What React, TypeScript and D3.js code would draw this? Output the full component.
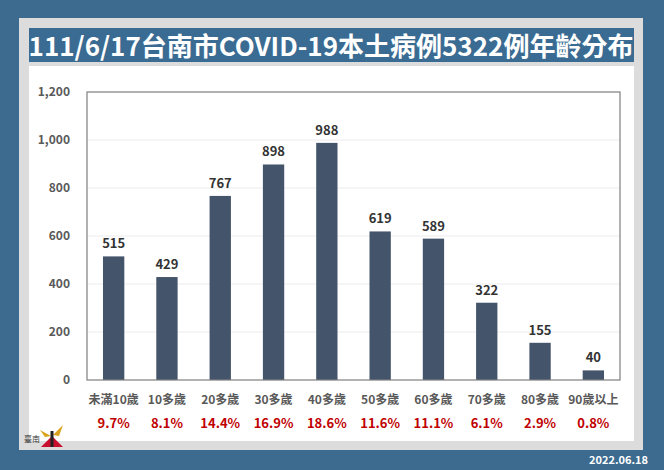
import React, { useEffect, useRef } from "react";
import * as d3 from "d3";

const W = 664;
const H = 470;

const title = "111/6/17台南市COVID-19本土病例5322例年齡分布";
const dateText = "2022.06.18";
const categories = ["未滿10歲", "10多歲", "20多歲", "30多歲", "40多歲", "50多歲", "60多歲", "70多歲", "80多歲", "90歲以上"];
const cases = [515, 429, 767, 898, 988, 619, 589, 322, 155, 40];
const shares = ["9.7%", "8.1%", "14.4%", "16.9%", "18.6%", "11.6%", "11.1%", "6.1%", "2.9%", "0.8%"];
const yTicks = [0, 200, 400, 600, 800, 1000, 1200];

const FONT = "'Noto Sans CJK TC', 'Noto Sans', sans-serif";

function App() {
  const svgRef = useRef<SVGSVGElement>(null);

  useEffect(() => {
    const svg = d3.select(svgRef.current);
    svg.selectAll("*").remove();

    // frame
    svg.append("rect").attr("width", W).attr("height", H).attr("fill", "#3d6b8f");
    svg.append("rect").attr("x", 19).attr("y", 18).attr("width", 624).attr("height", 432).attr("fill", "#dcdcdc");
    svg.append("rect").attr("x", 29).attr("y", 28).attr("width", 605).attr("height", 34).attr("fill", "#3a6b92");
    svg.append("rect").attr("x", 29).attr("y", 66).attr("width", 605).attr("height", 375).attr("fill", "#ffffff");

    svg.append("text")
      .attr("x", 331).attr("y", 56)
      .attr("text-anchor", "middle")
      .attr("fill", "#fff")
      .attr("font-family", FONT)
      .attr("font-weight", "bold")
      .attr("font-size", 26)
      .text(title);

    const left = 87, right = 620, top = 92, bottom = 380;

    const x = d3.scaleBand<string>().domain(categories).range([left, right]).paddingInner(0.6).paddingOuter(0.3);
    const y = d3.scaleLinear().domain([0, 1200]).range([bottom, top]);

    // gridlines
    svg.append("g")
      .selectAll("line")
      .data(yTicks.slice(1, -1))
      .join("line")
      .attr("x1", left).attr("x2", right)
      .attr("y1", (d) => y(d)).attr("y2", (d) => y(d))
      .attr("stroke", "#ececec");

    // bars
    svg.append("g")
      .selectAll("rect")
      .data(cases)
      .join("rect")
      .attr("x", (d, i) => x(categories[i])!)
      .attr("y", (d) => y(d))
      .attr("width", x.bandwidth())
      .attr("height", (d) => bottom - y(d))
      .attr("fill", "#44546a");

    // plot frame
    svg.append("rect")
      .attr("x", left).attr("y", top)
      .attr("width", right - left).attr("height", bottom - top)
      .attr("fill", "none").attr("stroke", "#7f7f7f").attr("stroke-width", 1.2);

    // value labels
    svg.append("g")
      .selectAll("text")
      .data(cases)
      .join("text")
      .attr("x", (d, i) => x(categories[i])! + x.bandwidth() / 2)
      .attr("y", (d) => y(d) - 8)
      .attr("text-anchor", "middle")
      .attr("fill", "#333")
      .attr("font-family", FONT)
      .attr("font-weight", "bold")
      .attr("font-size", 13)
      .text((d) => d);

    // y axis labels
    svg.append("g")
      .selectAll("text")
      .data(yTicks)
      .join("text")
      .attr("x", 70)
      .attr("y", (d) => y(d) + 4)
      .attr("text-anchor", "end")
      .attr("fill", "#595959")
      .attr("font-family", FONT)
      .attr("font-weight", "bold")
      .attr("font-size", 12)
      .text((d) => d3.format(",")(d));

    // category labels
    svg.append("g")
      .selectAll("text")
      .data(categories)
      .join("text")
      .attr("x", (d) => x(d)! + x.bandwidth() / 2)
      .attr("y", 404)
      .attr("text-anchor", "middle")
      .attr("fill", "#595959")
      .attr("font-family", FONT)
      .attr("font-weight", "bold")
      .attr("font-size", 12)
      .text((d) => d);

    // share labels
    svg.append("g")
      .selectAll("text")
      .data(shares)
      .join("text")
      .attr("x", (d, i) => x(categories[i])! + x.bandwidth() / 2)
      .attr("y", 428)
      .attr("text-anchor", "middle")
      .attr("fill", "#c00000")
      .attr("font-family", FONT)
      .attr("font-weight", "bold")
      .attr("font-size", 13)
      .text((d) => d);

    // date
    svg.append("text")
      .attr("x", 648).attr("y", 464)
      .attr("text-anchor", "end")
      .attr("fill", "#fff")
      .attr("font-family", FONT)
      .attr("font-weight", "bold")
      .attr("font-size", 11)
      .text(dateText);

    // small logo
    const logo = svg.append("g").attr("transform", "translate(24,424)");
    logo.append("text").attr("x", 0).attr("y", 18).attr("font-family", FONT).attr("font-size", 8).attr("fill", "#333").text("臺南");
    logo.append("path").attr("d", "M16,6 L27,12 L21,13 Z").attr("fill", "#d9a21b");
    logo.append("path").attr("d", "M39,1 L29,11 L35,12 Z").attr("fill", "#d9a21b");
    logo.append("path").attr("d", "M17,23 L27,13 L27,23 Z").attr("fill", "#c8102e");
    logo.append("path").attr("d", "M39,23 L29,13 L29,23 Z").attr("fill", "#c8102e");
    logo.append("rect").attr("x", 26.5).attr("y", 7).attr("width", 3).attr("height", 16).attr("fill", "#222");
  }, []);

  return <svg ref={svgRef} width={W} height={H} style={{ display: "block", position: "absolute", left: 0, top: 0 }} />;
}

export default App;
